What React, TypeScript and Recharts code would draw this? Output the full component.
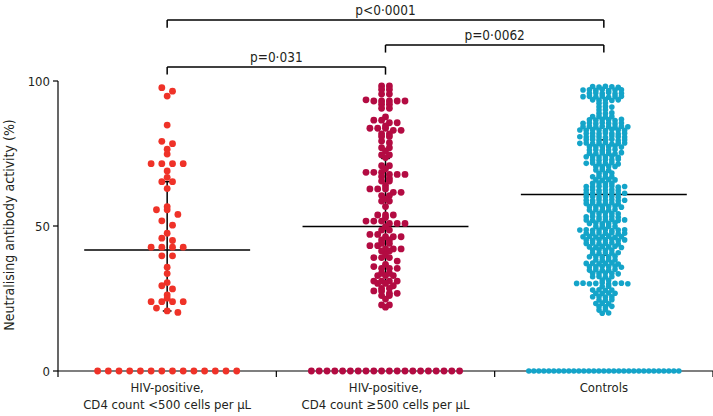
import { ScatterChart, Scatter, XAxis, YAxis, ReferenceLine } from 'recharts'

const CHART_W = 713
const CHART_H = 416
const Y_AXIS_W = 58
const X_AXIS_H = 45
const TOP = 81
const X_UNIT = (CHART_W - Y_AXIS_W) / 3
const MAX_ROW = 150
const FONT = "'DejaVu Sans Condensed', 'Liberation Sans', sans-serif"
const INK = '#231f20'

const categories = [
  ['HIV-positive,', 'CD4 count <500 cells per µL'],
  ['HIV-positive,', 'CD4 count ≥500 cells per µL'],
  ['Controls'],
]
const yTicks = [0, 50, 100]

// % neutralising activity, one value per participant
const lowCd4 = [
  97.7, 96.5, 94.8, 84.8, 79.2, 78.4, 76.5, 74.8, 71.5, 71.5, 71.5, 71.5, 69.0, 66.8, 65.3, 65.3,
  62.9, 56.7, 55.6, 55.6, 54.0, 51.8, 50.3, 47.5, 45.8, 45.0, 42.7, 42.7, 42.7, 42.7, 39.7, 39.7,
  35.8, 33.6, 30.5, 29.4, 28.3, 26.2, 25.1, 23.9, 23.9, 23.9, 23.9, 21.7, 20.7, 20.2,
  0, 0, 0, 0, 0, 0, 0, 0, 0, 0, 0, 0, 0, 0,
]

const highCd4 = [
  98.3, 98.3, 97.1, 97.1, 95.5, 95.5, 93.5, 93.1, 93.1, 93.1, 93.1, 93.1, 92.0, 92.0, 90.6, 90.6,
  87.6, 86.5, 86.5, 85.6, 85.6, 84.5, 83.7, 83.7, 83.7, 83.0, 83.0, 81.8, 81.8, 80.9, 80.9, 79.3,
  78.7, 77.0, 77.0, 75.9, 74.5, 74.5, 73.6, 70.8, 70.8, 69.7, 68.5, 68.5, 68.5, 67.8, 67.8, 67.8,
  67.1, 66.4, 65.5, 65.5, 63.9, 62.8, 62.8, 62.8, 61.6, 61.6, 60.5, 60.5, 59.3, 58.6, 58.6, 56.7,
  53.8, 53.8, 53.8, 52.9, 51.7, 51.7, 51.7, 50.9, 50.9, 50.9, 49.8, 48.6, 48.6, 47.1, 47.1, 46.3,
  46.3, 46.3, 45.2, 45.2, 44.0, 44.0, 43.2, 43.2, 42.1, 42.1, 42.1, 41.4, 41.4, 40.0, 39.1, 39.1,
  39.1, 37.9, 36.8, 36.0, 35.4, 35.4, 35.4, 33.7, 33.7, 32.9, 32.9, 32.9, 31.0, 31.0, 31.0, 31.0,
  30.2, 30.2, 29.4, 28.5, 28.5, 27.6, 27.6, 26.8, 26.8, 26.0, 26.0, 24.8, 22.8, 22.8, 22.0,
  0, 0, 0, 0, 0, 0, 0, 0, 0, 0, 0, 0, 0, 0, 0, 0, 0, 0, 0, 0,
]

const controls = [
  98.1, 97.9, 98.2, 98.0, 97.8,
  96.9, 97.0, 96.8, 97.1, 96.7, 96.9, 97.0,
  95.8, 95.9, 95.7, 96.0, 95.6, 95.8,
  94.6, 94.7, 94.5, 94.8, 94.4, 94.6, 94.7,
  93.5, 93.4, 93.6, 93.3, 93.5,
  92.3, 92.4, 91.1, 91.2, 91.0, 90.0, 90.1, 88.9, 88.8, 89.0,
  87.7, 87.8, 87.6, 87.7,
  86.6, 86.5, 86.7, 86.6, 86.4, 86.8,
  85.4, 85.5, 85.3, 85.6, 85.4, 85.2, 85.5,
  84.2, 84.3, 84.1, 84.4, 84.2, 84.0, 84.3, 84.2,
  83.1, 83.0, 83.2, 83.1, 82.9, 83.3, 83.1, 83.0,
  81.9, 82.0, 81.8, 82.1, 81.9, 81.7, 82.0,
  80.8, 80.7, 80.9, 80.8, 80.6, 81.0, 80.8, 80.7,
  79.7, 79.8, 79.6, 79.7, 79.9, 79.5, 79.7,
  78.5, 78.6, 78.4, 78.5, 78.7, 78.3, 78.5, 78.6,
  77.4, 77.3, 77.5, 77.4, 77.6, 77.2,
  76.2, 76.3, 76.1, 76.2, 76.4,
  75.1, 75.0, 75.2, 75.1, 74.9, 75.3,
  73.9, 74.0, 73.8, 73.9, 74.1, 73.7,
  72.8, 72.7, 72.9, 72.8, 73.0,
  71.6, 71.7, 71.5, 71.6, 71.8, 71.4,
  70.5, 70.4, 70.6, 70.5, 69.3, 69.4, 69.2, 68.2, 68.1, 68.3,
  67.0, 67.1, 66.9, 67.0, 65.9, 65.8, 66.0, 65.9, 64.7, 64.8, 64.6, 64.7,
  63.6, 63.5, 63.7, 63.6, 63.8, 63.4, 63.6,
  62.4, 62.5, 62.3, 62.4, 62.6, 62.2,
  61.3, 61.2, 61.4, 61.3, 61.5, 61.1, 61.3,
  60.1, 60.2, 60.0, 60.1, 60.3, 59.9,
  58.9, 58.8, 59.0, 58.9, 59.1, 58.7, 58.9,
  57.8, 57.9, 57.7, 57.8, 58.0, 57.6,
  56.7, 56.6, 56.8, 56.7, 56.9, 56.5,
  55.5, 55.6, 55.4, 55.5, 55.7,
  54.4, 54.3, 54.5, 54.4, 54.2,
  53.2, 53.3, 53.1, 53.2, 53.4, 53.0,
  52.1, 52.0, 52.2, 52.1, 52.3, 51.9, 52.1,
  50.9, 51.0, 50.8, 50.9, 51.1,
  49.8, 49.7, 49.9, 49.8,
  48.6, 48.7, 48.5, 48.6, 48.8, 48.4, 48.6, 48.7,
  47.5, 47.4, 47.6, 47.5, 47.7, 47.3, 47.5,
  46.3, 46.4, 46.2, 46.3, 46.5, 46.1, 46.3,
  45.2, 45.1, 45.3, 45.2, 45.4, 45.0, 45.2,
  44.0, 44.1, 43.9, 44.0, 44.2, 43.8,
  42.8, 42.7, 42.9, 42.8, 43.0, 42.6,
  41.7, 41.8, 41.6, 41.7,
  40.6, 40.5, 40.7, 40.6, 40.8,
  39.4, 39.5, 39.3, 39.4, 39.6,
  38.3, 38.2, 38.4, 38.3,
  37.1, 37.2, 37.0, 37.1, 37.3, 36.9,
  36.0, 35.9, 36.1, 36.0, 36.2, 35.8,
  34.8, 34.9, 34.7, 34.8, 35.0,
  33.7, 33.6, 33.8, 33.7, 33.5,
  32.5, 32.6, 32.4, 32.5, 31.4, 31.3,
  30.2, 30.3, 30.1, 30.2, 30.4, 30.0, 30.2, 30.3, 30.1,
  29.1, 29.2, 27.9, 28.0, 27.8, 27.9, 26.8, 26.7, 26.9, 26.8,
  25.6, 25.7, 25.5, 25.6, 24.5, 24.4, 24.6, 23.3, 23.4, 23.2,
  22.2, 22.1, 22.3, 21.0, 21.1, 19.9, 20.0,
  0, 0, 0, 0, 0, 0, 0, 0, 0, 0, 0, 0, 0, 0, 0, 0,
  0, 0, 0, 0, 0, 0, 0, 0, 0, 0, 0, 0, 0, 0, 0,
]

// horizontal line and whiskers for each group
const centreValues = [41.7, 49.8, 60.9]
const upperValues = [65.3, 73.3, 79.7]
const lowerValues = [20.7, 30.6, 39.9]

const comparisons = [
  { from: 0, to: 2, level: 121, text: 'p<0·0001' },
  { from: 1, to: 2, level: 112.4, text: 'p=0·0062' },
  { from: 0, to: 1, level: 104.8, text: 'p=0·031' },
]

const groups = [
  { values: lowCd4, color: '#ef3228', bin: 2.0, gap: 10.7, r: 3.4, stagger: 0 },
  { values: highCd4, color: '#b30b42', bin: 1.4, gap: 7.8, r: 3.4, stagger: 0 },
  { values: controls, color: '#14a4c9', bin: 1.15, gap: 6.4, r: 2.8, stagger: 0.25 },
]

// prism-style scatter: values in the same band sit side by side,
// squeezed when a band would get wider than the column allows
function swarm(values: number[], group: number, bin: number, gapPx: number, stagger: number) {
  const rows = new Map<number, number[]>()
  values.forEach(v => {
    const key = Math.floor(v / bin)
    if (!rows.has(key)) rows.set(key, [])
    rows.get(key)!.push(v)
  })
  const pts: { x: number; y: number }[] = []
  rows.forEach((row, key) => {
    const n = row.length
    const gap = n > 1 ? Math.min(gapPx, MAX_ROW / (n - 1)) : gapPx
    const shift = key === 0 ? 0 : (key % 2 ? stagger : -stagger) * gap
    row.forEach((v, i) => {
      pts.push({ x: group + 0.5 + ((i - (n - 1) / 2) * gap + shift) / X_UNIT, y: v })
    })
  })
  return pts
}

function CategoryTick(props: any) {
  const { x, y, payload } = props
  const v = payload.value
  if (Number.isInteger(v)) {
    return <line x1={x} x2={x} y1={y} y2={y + 6} stroke="#000" strokeWidth={1.2} />
  }
  const lines = categories[Math.floor(v)]
  return (
    <text x={x} y={y} textAnchor="middle" fill={INK} fontSize={13} fontFamily={FONT}>
      {lines.map((l, i) => (
        <tspan key={i} x={x} y={y + 21 + i * 17}>{l}</tspan>
      ))}
    </text>
  )
}

export default function App() {
  return (
    <div style={{ position: 'absolute', left: 0, top: 0, width: CHART_W, height: CHART_H, background: '#fff' }}>
      <ScatterChart width={CHART_W} height={CHART_H} margin={{ top: TOP, right: 0, left: 0, bottom: 0 }}>
        <XAxis
          type="number"
          dataKey="x"
          domain={[0, 3]}
          ticks={[0, 0.5, 1, 1.5, 2, 2.5, 3]}
          interval={0}
          tickLine={false}
          tickSize={0}
          tickMargin={0}
          tick={(p: any) => <CategoryTick {...p} />}
          axisLine={{ stroke: '#000', strokeWidth: 1.2 }}
          height={X_AXIS_H}
        />
        <YAxis
          type="number"
          dataKey="y"
          domain={[0, 100]}
          ticks={yTicks}
          width={Y_AXIS_W}
          tickSize={5}
          tickMargin={3}
          tick={{ fontSize: 13, fill: INK, fontFamily: FONT }}
          tickLine={{ stroke: '#000', strokeWidth: 1.2 }}
          axisLine={{ stroke: '#000', strokeWidth: 1.2 }}
        />
        {groups.map((g, i) => (
          <Scatter
            key={i}
            data={swarm(g.values, i, g.bin, g.gap, g.stagger)}
            fill={g.color}
            isAnimationActive={false}
            shape={(p: any) => <circle cx={p.cx} cy={p.cy} r={g.r} fill={g.color} />}
          />
        ))}
        {centreValues.map((m, i) => (
          <ReferenceLine
            key={'m' + i}
            segment={[{ x: i + 0.12, y: m }, { x: i + 0.88, y: m }]}
            stroke="#000"
            strokeWidth={1.5}
            ifOverflow="visible"
          />
        ))}
        {centreValues.map((_, i) => (
          <ReferenceLine
            key={'e' + i}
            segment={[{ x: i + 0.5, y: lowerValues[i] }, { x: i + 0.5, y: upperValues[i] }]}
            stroke="#000"
            strokeWidth={1.5}
            ifOverflow="visible"
          />
        ))}
        {[...upperValues, ...lowerValues].map((v, j) => (
          <ReferenceLine
            key={'c' + j}
            segment={[{ x: (j % 3) + 0.48, y: v }, { x: (j % 3) + 0.52, y: v }]}
            stroke="#000"
            strokeWidth={1.5}
            ifOverflow="visible"
          />
        ))}
        {comparisons.map((c, i) => (
          <ReferenceLine
            key={'b' + i}
            segment={[{ x: c.from + 0.5, y: c.level }, { x: c.to + 0.5, y: c.level }]}
            stroke="#000"
            strokeWidth={1.5}
            ifOverflow="visible"
            label={{ value: c.text, position: 'top', offset: 5, fill: INK, fontSize: 13.5, fontFamily: FONT }}
          />
        ))}
        {comparisons.flatMap((c, i) =>
          [c.from, c.to].map(end => (
            <ReferenceLine
              key={'l' + i + '-' + end}
              segment={[{ x: end + 0.5, y: c.level }, { x: end + 0.5, y: c.level - 2.6 }]}
              stroke="#000"
              strokeWidth={1.5}
              ifOverflow="visible"
            />
          )),
        )}
      </ScatterChart>
      <div
        style={{
          position: 'absolute',
          left: 9,
          top: TOP + 144,
          transform: 'translate(-50%, -50%) rotate(-90deg)',
          whiteSpace: 'nowrap',
          fontFamily: FONT,
          fontSize: 14,
          color: INK,
        }}
      >
        Neutralising antibody activity (%)
      </div>
    </div>
  )
}
